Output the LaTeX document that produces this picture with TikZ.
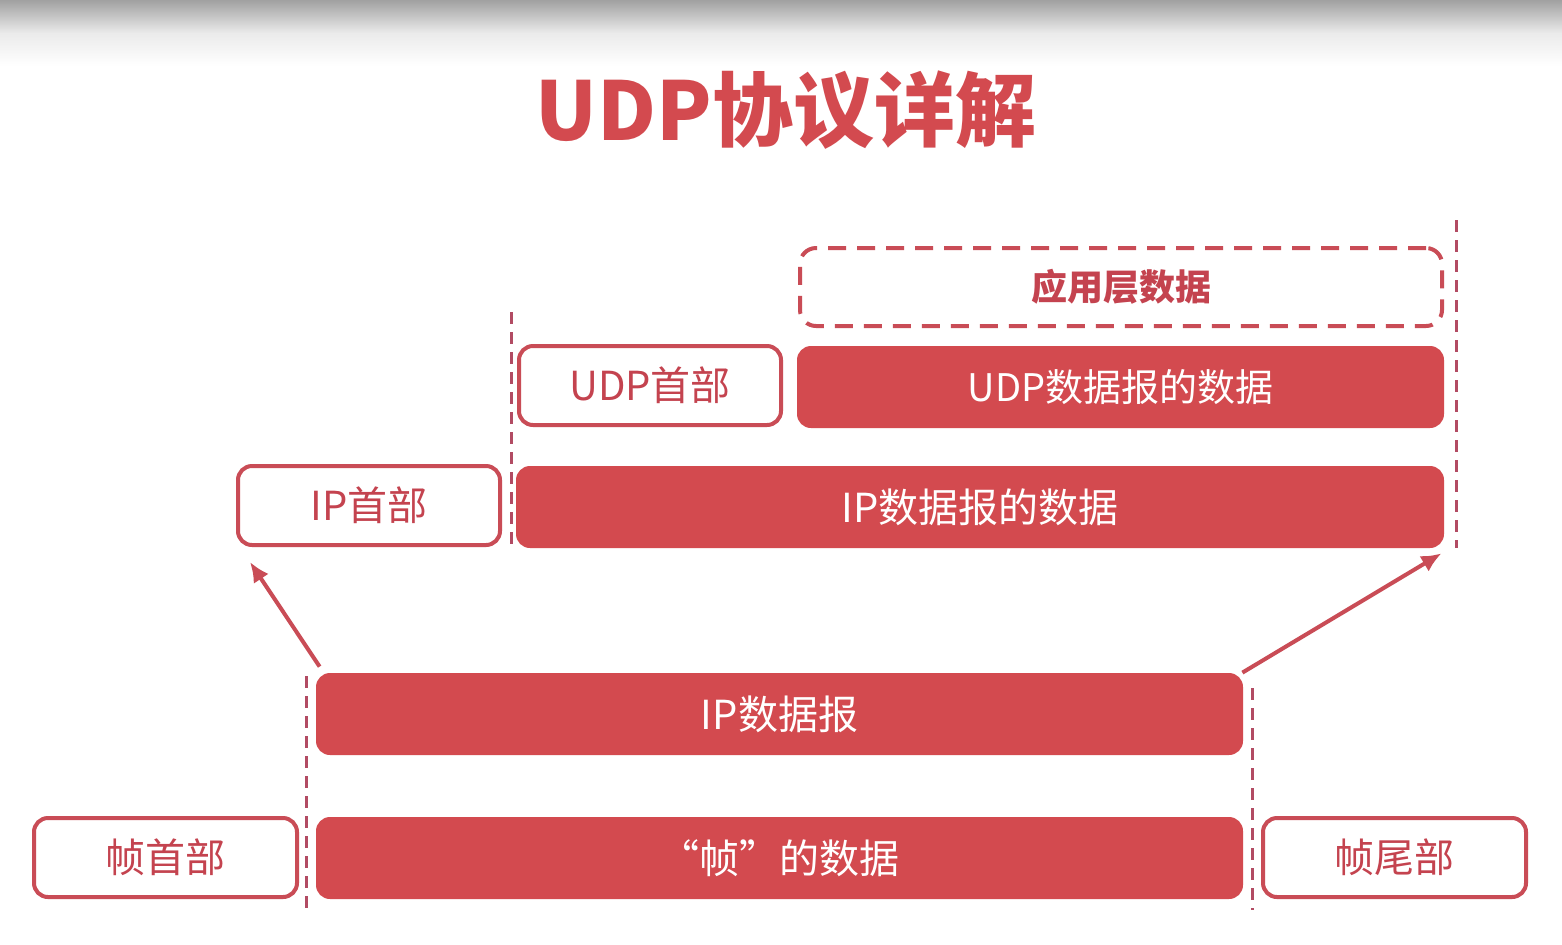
\documentclass[tikz,border=0pt]{standalone}
\usepackage{fontspec}
\setmainfont{Noto Sans CJK SC}
\usetikzlibrary{arrows.meta}
\definecolor{boxred}{HTML}{D34A4F}
\definecolor{linered}{HTML}{C94C56}
\definecolor{txtred}{HTML}{C4434F}
\definecolor{dashpurple}{HTML}{B24B63}
\tikzset{
  x=0.5pt, y=-0.5pt,
  filledbox/.style={fill=boxred, draw=none, rounded corners=7pt, text=white,
    font=\fontsize{20}{24}\selectfont, inner sep=0pt},
  outlinebox/.style={fill=white, draw=linered, line width=2pt, rounded corners=7pt,
    text=txtred, font=\fontsize{20}{24}\selectfont, inner sep=0pt},
  appbox/.style={draw=linered, line width=2pt, rounded corners=8pt,
    dash pattern=on 9pt off 5.5pt, text=txtred, inner sep=0pt,
    font=\fontsize{18}{22}\bfseries\selectfont},
  vdash/.style={draw=dashpurple, line width=1.5pt, dash pattern=on 6pt off 4pt},
  arr/.style={draw=linered, line width=2pt, -{Latex[length=10pt,width=9pt]}},
}
\begin{document}
\begin{tikzpicture}
\useasboundingbox (0,0) rectangle (1562,944);
\fill[white] (0,0) rectangle (1562,944);
\shade[top color=black!37, bottom color=white, middle color=black!8] (0,0) rectangle (1562,66);

\node[text=boxred, font=\fontsize{40.5}{46}\bfseries\selectfont] (title) at (786,110) {UDP协议详解};

\node[appbox, minimum width=321pt, minimum height=39pt] (app) at (1121,287) {应用层数据};

\node[outlinebox, minimum width=131pt, minimum height=39.5pt] (udph) at (650,385.5) {UDP首部};
\node[filledbox, minimum width=323.5pt, minimum height=41pt, font=\fontsize{19}{23}\selectfont] (udpd) at (1120.5,387) {UDP数据报的数据};

\node[outlinebox, minimum width=131pt, minimum height=39.5pt] (iph) at (369,505.5) {IP首部};
\node[filledbox, minimum width=464pt, minimum height=41pt] (ipdd) at (980,507) {IP数据报的数据};

\node[filledbox, minimum width=463.5pt, minimum height=41pt] (ipdg) at (779.5,714) {IP数据报};

\node[outlinebox, minimum width=131.5pt, minimum height=39.5pt] (fh) at (165.5,857.5) {帧首部};
\node[filledbox, minimum width=463.5pt, minimum height=41pt] (fd) at (779.5,858) {“帧”的数据};
\node[outlinebox, minimum width=131.5pt, minimum height=39.5pt] (ft) at (1394.5,857.5) {帧尾部};

% dashed guides
\coordinate (g1a) at (511,312); \coordinate (g1b) at (511,548);
\coordinate (g2a) at (1456,220); \coordinate (g2b) at (1456,548);
\coordinate (g3a) at (306,676); \coordinate (g3b) at (306,915);
\coordinate (g4a) at (1252,688); \coordinate (g4b) at (1252,910);
\draw[vdash] (g1a) -- (g1b);
\draw[vdash] (g2a) -- (g2b);
\draw[vdash] (g3a) -- (g3b);
\draw[vdash] (g4a) -- (g4b);

% arrows
\draw[arr] ([xshift=2pt,yshift=3pt]ipdg.north west) -- ([xshift=7pt,yshift=-7.5pt]iph.south west);
\draw[arr] ([xshift=-0.5pt,yshift=0pt]ipdg.north east) -- ([xshift=-1.5pt,yshift=-2.5pt]ipdd.south east);
\end{tikzpicture}
\end{document}
